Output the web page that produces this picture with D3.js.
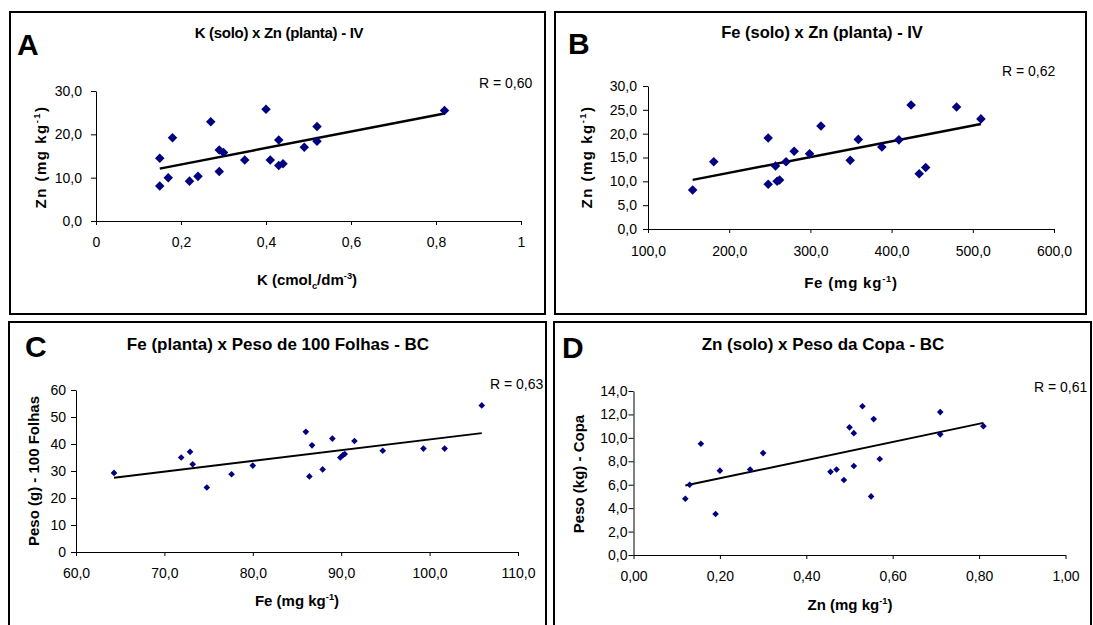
<!DOCTYPE html>
<html>
<head>
<meta charset="utf-8">
<script src="https://cdn.jsdelivr.net/npm/d3@7"></script>
<style>
  html, body { margin: 0; padding: 0; background: #fff; }
  svg { display: block; font-family: "Liberation Sans", Arial, sans-serif; }
</style>
</head>
<body>
<svg id="fig" width="1093" height="625"></svg>
<script>
// A: K no solo x Zn na planta (IV)
const kSolo     = [0.15, 0.15, 0.17, 0.18, 0.22, 0.24, 0.27, 0.29, 0.30, 0.29, 0.35, 0.40, 0.41, 0.43, 0.43, 0.44, 0.49, 0.52, 0.52, 0.82];
const znPlantaA = [14.5, 8.1, 10.0, 19.2, 9.2, 10.3, 22.9, 16.4, 15.8, 11.4, 14.1, 25.8, 14.1, 18.7, 12.8, 13.2, 17.0, 21.8, 18.4, 25.5];

// B: Fe no solo x Zn na planta (IV)
const feSolo    = [155, 181, 248, 248, 257, 259, 262, 270, 280, 299, 313, 349, 359, 388, 409, 424, 434, 442, 480, 510];
const znPlantaB = [8.2, 14.1, 19.1, 9.4, 13.2, 10.0, 10.3, 14.1, 16.3, 15.8, 21.6, 14.4, 18.8, 17.2, 18.7, 26.0, 11.6, 12.9, 25.6, 23.1];

// C: Fe na planta x peso de 100 folhas (BC)
const fePlanta  = [64.3, 71.9, 72.9, 73.2, 74.8, 77.6, 80.0, 86.0, 86.7, 86.4, 87.9, 89.0, 89.9, 90.2, 90.4, 91.5, 94.7, 99.3, 101.7, 105.9];
const peso100   = [29.3, 35.0, 37.1, 32.5, 23.9, 28.8, 32.0, 44.5, 39.5, 28.0, 30.6, 42.0, 35.0, 35.9, 36.3, 41.1, 37.5, 38.3, 38.3, 54.3];

// D: Zn no solo x peso da copa (BC)
const znSolo    = [0.12, 0.13, 0.156, 0.19, 0.20, 0.27, 0.30, 0.456, 0.47, 0.487, 0.50, 0.51, 0.51, 0.53, 0.55, 0.556, 0.57, 0.71, 0.71, 0.81];
const pesoCopa  = [4.8, 6.0, 9.5, 3.5, 7.2, 7.3, 8.7, 7.1, 7.3, 6.4, 10.9, 10.4, 7.6, 12.7, 5.0, 11.6, 8.2, 12.2, 10.3, 11.0];

// Axis ticks
const ticksXA = [0, 0.2, 0.4, 0.6, 0.8, 1];
const ticksYA = [0, 10, 20, 30];
const ticksXB = [100, 200, 300, 400, 500, 600];
const ticksYB = [0, 5, 10, 15, 20, 25, 30];
const ticksXC = [60, 70, 80, 90, 100, 110];
const ticksYC = [0, 10, 20, 30, 40, 50, 60];
const ticksXD = [0, 0.2, 0.4, 0.6, 0.8, 1.0];
const ticksYD = [0, 2, 4, 6, 8, 10, 12, 14];

// Correlation labels
const rLabels = ["R = 0,60", "R = 0,62", "R = 0,63", "R = 0,61"];

const svg = d3.select("#fig");
const NAVY = "#000080";

// decimal comma formatters
const comma = f => v => f(v).replace(".", ",");
const fmtPlain = comma(d3.format("~g"));
const fmt1 = comma(d3.format(".1f"));
const fmt2 = comma(d3.format(".2f"));
const fmt0 = d3.format("d");

// text with super/subscript runs
function richText(sel, parts, size) {
  let shift = 0;
  parts.forEach(p => {
    const ts = sel.append("tspan").text(p[0]);
    let target = 0;
    if (p[1] === "sup") target = -size * 0.42;
    if (p[1] === "sub") target = size * 0.28;
    ts.attr("dy", target - shift);
    if (p[1]) ts.attr("font-size", size * 0.62);
    shift = target;
  });
}

// least-squares line
function linFit(xs, ys) {
  const mx = d3.mean(xs), my = d3.mean(ys);
  let sxy = 0, sxx = 0;
  xs.forEach((x, i) => { sxy += (x - mx) * (ys[i] - my); sxx += (x - mx) * (x - mx); });
  const b = sxy / sxx;
  return { b, a: my - b * mx };
}

function drawPanel(c) {
  const g = svg.append("g");

  g.append("rect")
    .attr("x", c.box[0]).attr("y", c.box[1])
    .attr("width", c.box[2] - c.box[0]).attr("height", c.box[3] - c.box[1])
    .attr("fill", "#fff").attr("stroke", "#000").attr("stroke-width", 2);

  const x = d3.scaleLinear().domain(c.xDomain).range([c.plot[0], c.plot[1]]);
  const y = d3.scaleLinear().domain(c.yDomain).range([c.plot[2], c.plot[3]]);

  const xAxis = g.append("g")
    .attr("transform", `translate(0,${c.plot[2]})`)
    .call(d3.axisBottom(x).tickValues(c.xTicks).tickFormat(c.xFmt)
      .tickSize(4).tickSizeOuter(0).tickPadding(c.xPad));
  const yAxis = g.append("g")
    .attr("transform", `translate(${c.plot[0]},0)`)
    .call(d3.axisLeft(y).tickValues(c.yTicks).tickFormat(c.yFmt)
      .tickSize(5).tickSizeOuter(0).tickPadding(c.yPad));
  [xAxis, yAxis].forEach(a => {
    a.selectAll("text").attr("font-size", 14).attr("fill", "#000")
      .attr("font-family", '"Liberation Sans", Arial, sans-serif');
    a.selectAll("line, path").attr("stroke", "#000");
  });

  // trend line
  const f = linFit(c.xs, c.ys);
  const ext = d3.extent(c.xs);
  g.append("line")
    .attr("x1", x(ext[0])).attr("y1", y(f.a + f.b * ext[0]))
    .attr("x2", x(ext[1])).attr("y2", y(f.a + f.b * ext[1]))
    .attr("stroke", "#000").attr("stroke-width", c.lineW);

  // markers
  const sym = d3.symbol().type(d3.symbolDiamond2).size(c.marker);
  g.selectAll("path.pt").data(c.xs.map((v, i) => [v, c.ys[i]]))
    .join("path").attr("class", "pt")
    .attr("d", sym)
    .attr("transform", d => `translate(${x(d[0])},${y(d[1])})`)
    .attr("fill", NAVY);

  // panel letter
  g.append("text").attr("x", c.letterPos[0]).attr("y", c.letterPos[1])
    .attr("font-size", 30).attr("font-weight", "bold").text(c.letter);

  // title
  g.append("text").attr("x", c.titlePos[0]).attr("y", c.titlePos[1])
    .attr("text-anchor", "middle").attr("font-size", c.titleSize)
    .attr("font-weight", "bold").attr("letter-spacing", c.titleLS)
    .text(c.title);

  // R label
  g.append("text").attr("x", c.rPos[0]).attr("y", c.rPos[1])
    .attr("font-size", 14).text(c.r);

  // axis titles
  const xt = g.append("text").attr("x", c.xLabelPos[0]).attr("y", c.xLabelPos[1])
    .attr("text-anchor", "middle").attr("font-size", c.labelSize)
    .attr("font-weight", "bold").attr("letter-spacing", c.xLS);
  richText(xt, c.xLabel, c.labelSize);

  const yt = g.append("text")
    .attr("transform", `translate(${c.yLabelPos[0]},${c.yLabelPos[1]}) rotate(-90)`)
    .attr("text-anchor", "middle").attr("font-size", c.labelSize)
    .attr("font-weight", "bold").attr("letter-spacing", c.yLS);
  richText(yt, c.yLabel, c.labelSize);
}

const panels = [
  {
    box: [10, 12, 545, 314], plot: [96, 521, 221, 91],
    xDomain: [0, 1], yDomain: [0, 30], xTicks: ticksXA, yTicks: ticksYA,
    xFmt: fmtPlain, yFmt: fmt1, xPad: 12, yPad: 9,
    xs: kSolo, ys: znPlantaA, marker: 58, lineW: 2.5,
    letter: "A", letterPos: [17, 55],
    title: "K (solo) x Zn (planta) - IV", titlePos: [279, 38], titleSize: 15, titleLS: -0.3,
    r: rLabels[0], rPos: [479, 88],
    labelSize: 15, xLS: 0, yLS: 1.5,
    xLabel: [["K (cmol", ""], ["c", "sub"], ["/dm", ""], ["-3", "sup"], [")", ""]], xLabelPos: [307, 285],
    yLabel: [["Zn (mg kg", ""], ["-1", "sup"], [")", ""]], yLabelPos: [46, 157]
  },
  {
    box: [555, 12, 1086, 314], plot: [648, 1054, 229, 86],
    xDomain: [100, 600], yDomain: [0, 30], xTicks: ticksXB, yTicks: ticksYB,
    xFmt: fmt1, yFmt: fmt1, xPad: 13, yPad: 6,
    xs: feSolo, ys: znPlantaB, marker: 58, lineW: 2.5,
    letter: "B", letterPos: [568, 54],
    title: "Fe (solo) x Zn (planta) - IV", titlePos: [822, 38], titleSize: 16.5, titleLS: 0,
    r: rLabels[1], rPos: [1002, 76],
    labelSize: 15, xLS: 0.8, yLS: 1.5,
    xLabel: [["Fe (mg kg", ""], ["-1", "sup"], [")", ""]], xLabelPos: [851, 288],
    yLabel: [["Zn (mg kg", ""], ["-1", "sup"], [")", ""]], yLabelPos: [592, 157]
  },
  {
    box: [9, 322, 546, 630], plot: [76, 518, 552, 390],
    xDomain: [60, 110], yDomain: [0, 60], xTicks: ticksXC, yTicks: ticksYC,
    xFmt: fmt1, yFmt: fmt0, xPad: 12, yPad: 5,
    xs: fePlanta, ys: peso100, marker: 28, lineW: 2,
    letter: "C", letterPos: [25, 357],
    title: "Fe (planta) x Peso de 100 Folhas - BC", titlePos: [278, 350], titleSize: 17, titleLS: 0,
    r: rLabels[2], rPos: [490, 389],
    labelSize: 15, xLS: 0, yLS: 0,
    xLabel: [["Fe (mg kg", ""], ["-1", "sup"], [")", ""]], xLabelPos: [297, 606],
    yLabel: [["Peso (g) - 100 Folhas", ""]], yLabelPos: [39, 471]
  },
  {
    box: [554, 322, 1091, 630], plot: [633.5, 1065.5, 555, 391],
    xDomain: [0, 1], yDomain: [0, 14], xTicks: ticksXD, yTicks: ticksYD,
    xFmt: fmt2, yFmt: fmt1, xPad: 12, yPad: 1,
    xs: znSolo, ys: pesoCopa, marker: 28, lineW: 2,
    letter: "D", letterPos: [562, 358],
    title: "Zn (solo) x Peso da Copa - BC", titlePos: [823, 350], titleSize: 17, titleLS: 0,
    r: rLabels[3], rPos: [1034, 392],
    labelSize: 15, xLS: 0, yLS: 0,
    xLabel: [["Zn (mg kg", ""], ["-1", "sup"], [")", ""]], xLabelPos: [850, 610],
    yLabel: [["Peso (kg) - Copa", ""]], yLabelPos: [584, 474]
  }
];

panels.forEach(drawPanel);
</script>
</body>
</html>
